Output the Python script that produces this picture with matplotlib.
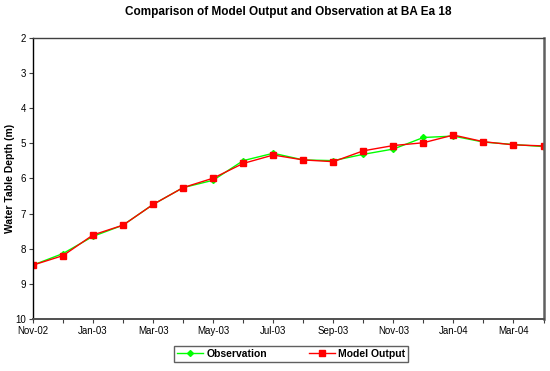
import matplotlib
matplotlib.use('Agg')
import matplotlib.pyplot as plt
import numpy as np

months = ['Nov-02', 'Dec-02', 'Jan-03', 'Feb-03', 'Mar-03', 'Apr-03', 'May-03', 'Jun-03',
          'Jul-03', 'Aug-03', 'Sep-03', 'Oct-03', 'Nov-03', 'Dec-03', 'Jan-04', 'Feb-04',
          'Mar-04', 'Apr-04']
observation = [8.47, 8.14, 7.65, 7.33, 6.74, 6.26, 6.05, 5.49, 5.28, 5.47, 5.49, 5.31,
               5.16, 4.83, 4.79, 4.96, 5.03, 5.09]
model_output = [8.47, 8.20, 7.61, 7.33, 6.74, 6.26, 5.99, 5.57, 5.33, 5.47, 5.52, 5.21,
                5.06, 4.98, 4.76, 4.95, 5.04, 5.07]

plt.rcParams['font.family'] = ['Liberation Sans', 'DejaVu Sans']
plt.rcParams['font.size'] = 7

fig = plt.figure(figsize=(5.5, 3.71), dpi=100)
ax = fig.add_axes([33 / 550, 1 - 318.7 / 371, (543.5 - 33) / 550, (318.7 - 38.3) / 371])

x = np.arange(len(months))
ax.plot(x, observation, color='#00FF00', lw=1.0, marker='D', ms=3, label='Observation')
ax.plot(x, model_output, color='#FF0000', lw=1.0, marker='s', ms=4.5, label='Model Output')

ax.set_xlim(0, len(months) - 1)
ax.set_ylim(10, 2)
ax.set_yticks(np.arange(2, 11, 1))
ax.set_xticks(x[::2])
ax.set_xticklabels(months[::2])
ax.set_xticks(x[1::2], minor=True)
ax.tick_params(which='both', direction='out', length=3, width=0.8, color='#404040', pad=2)

ax.set_ylabel('Water Table Depth (m)', fontweight='bold', fontsize=7.5)
ax.yaxis.set_label_coords(-0.035, 0.5)
ax.set_title('Comparison of Model Output and Observation at BA Ea 18',
             fontweight='bold', fontsize=8.5, pad=17)

ax.spines['left'].set_color('black')
ax.spines['bottom'].set_color('#505050')
ax.spines['top'].set_color('#404040')
ax.spines['right'].set_color('#606060')
ax.spines['bottom'].set_linewidth(1.4)
ax.spines['right'].set_linewidth(1.8)
ax.spines['top'].set_linewidth(1.0)
ax.spines['left'].set_linewidth(1.0)

leg = fig.legend(loc='lower center', bbox_to_anchor=(291 / 550, 4 / 371), ncol=2,
                 prop={'weight': 'bold', 'size': 7.5}, fancybox=False, framealpha=1,
                 edgecolor='#606060', borderpad=0.3, columnspacing=4.0, handlelength=2.5,
                 handletextpad=0.3)
leg.get_frame().set_linewidth(1.0)

plt.savefig('out.png', dpi=100)
